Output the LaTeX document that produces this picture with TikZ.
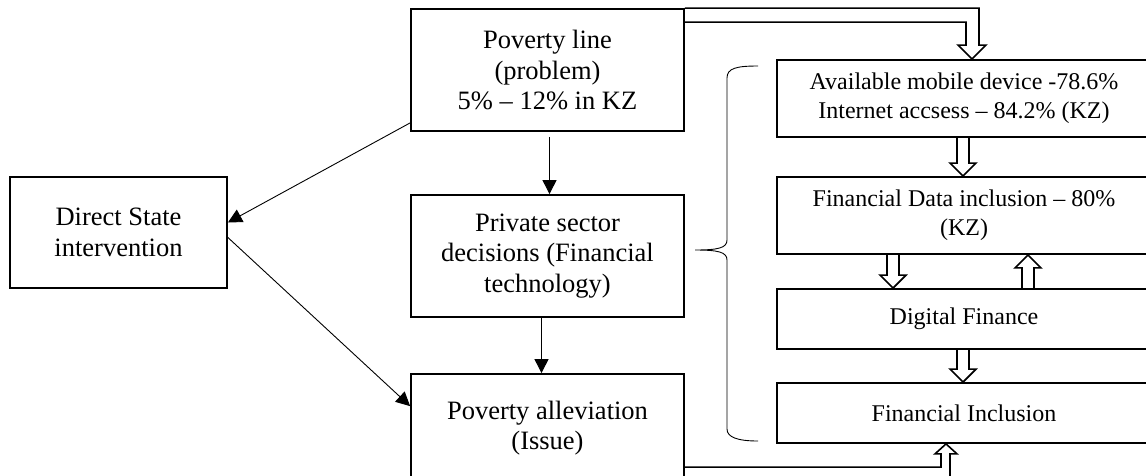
\documentclass[tikz,border=0pt]{standalone}
\usepackage{fontspec}
\setmainfont{Liberation Serif}
\usetikzlibrary{arrows.meta,calc}
\begin{document}
\begin{tikzpicture}[x=1pt,y=-1pt,
  box/.style={draw, line width=1.8pt, rectangle, align=center, inner sep=0pt},
  lbox/.style={box, font=\fontsize{26.5}{30.5}\selectfont},
  rbox/.style={box, font=\fontsize{24}{29}\selectfont, minimum width=374pt},
  thin/.style={line width=0.9pt, -{Triangle[length=14pt,width=14pt]}},
  hollow/.style={line width=1.6pt, line join=miter},
  hdown/.style={to path={let \p1=(\tikztostart),\p2=(\tikztotarget) in
     (\x2-6pt,\y1) -- (\x2-6pt,\y2+13pt) -- (\x2-13pt,\y2+13pt) -- (\x2,\y2)
     -- (\x2+13pt,\y2+13pt) -- (\x2+6pt,\y2+13pt) -- (\x2+6pt,\y1)}},
  hup/.style={to path={let \p1=(\tikztostart),\p2=(\tikztotarget) in
     (\x2-6pt,\y1) -- (\x2-6pt,\y2-13pt) -- (\x2-13pt,\y2-13pt) -- (\x2,\y2)
     -- (\x2+13pt,\y2-13pt) -- (\x2+6pt,\y2-13pt) -- (\x2+6pt,\y1)}}
]
\useasboundingbox (0,0) rectangle (1146,475);
\begin{scope}
\clip (0,0) rectangle (1146,475);
% left column
\node[lbox, minimum width=273pt, minimum height=122pt] (pl) at (547.5,70)
  {Poverty line\\(problem)\\5\% -- 12\% in KZ};
\node[lbox, minimum width=273pt, minimum height=122pt] (priv) at (547.5,256)
  {Private sector\\decisions (Financial\\technology)};
\node[lbox, minimum width=273pt, minimum height=108pt] (allev) at (547.5,428)
  {Poverty alleviation\\(Issue)};
\node[lbox, minimum width=217pt, minimum height=111pt] (direct) at (118.5,232.5)
  {Direct State\\intervention};
% right column
\node[rbox, minimum height=77pt] (avail) at (964,98.5)
  {Available mobile device -78.6\%\\Internet accsess -- 84.2\% (KZ)};
\node[rbox, minimum height=77pt] (findata) at (964,215.5)
  {Financial Data inclusion -- 80\%\\(KZ)};
\node[rbox, minimum height=60pt] (digital) at (964,319) {Digital Finance};
\node[rbox, minimum height=60pt] (incl) at (964,413) {Financial Inclusion};

% thin arrows
\draw[thin] ($(pl.south west)+(0,-9)$) -- ($(direct.east)+(0,-10)$);
\draw[thin] ($(direct.east)+(0,5)$) -- ($(allev.north west)+(0,33)$);
\draw[thin] ($(pl.south)+(2,5)$) -- ($(priv.north)+(2,0)$);
\draw[thin] ($(priv.south)+(-6,0)$) -- ($(allev.north)+(-6,0)$);

% hollow block arrows in the right column
\draw[hollow] ($(avail.south)+(-1,0)$) to[hdown] ($(findata.north)+(-1,0)$);
\draw[hollow] ($(findata.south)+(-71,0)$) to[hdown] ($(digital.north)+(-71,0)$);
\draw[hollow] ($(digital.north)+(64,0)$) to[hup] ($(findata.south)+(64,0)$);
\draw[hollow] ($(digital.south)+(-1,0)$) to[hdown] ($(incl.north)+(-1,0)$);

% top hollow arrow from poverty line to available
\coordinate (ttip) at ($(avail.north)+(8,0)$);
\draw[hollow] (pl.north east) -- ($(pl.north east -| ttip)+(7,0)$)
  -- ($(ttip)+(7,-14)$) -- ($(ttip)+(14,-14)$) -- (ttip)
  -- ($(ttip)+(-14,-14)$) -- ($(ttip)+(-6,-14)$)
  -- ($(pl.north east -| ttip)+(-6,14)$) -- ($(pl.north east)+(0,14)$);

% bottom hollow arrow from poverty alleviation to financial inclusion
\coordinate (btip) at ($(incl.south)+(-18,0)$);
\draw[hollow] ($(allev.north east)+(0,94)$) -- ($(allev.north east -| btip)+(-5,94)$)
  -- ($(btip)+(-5,10)$) -- ($(btip)+(-11,10)$) -- (btip)
  -- ($(btip)+(11,10)$) -- ($(btip)+(4,10)$)
  -- ($(allev.north east -| btip)+(4,106)$) -- ($(allev.north east)+(0,106)$);

% brace
\draw[line width=0.9pt] (758,66) .. controls (737,66) and (727,68) .. (727,78)
  -- (727,240) .. controls (727,248) and (718,250) .. (695,250)
  .. controls (718,250) and (727,252) .. (727,260)
  -- (727,429) .. controls (727,437) and (737,441) .. (758,441);
\end{scope}
\end{tikzpicture}
\end{document}
